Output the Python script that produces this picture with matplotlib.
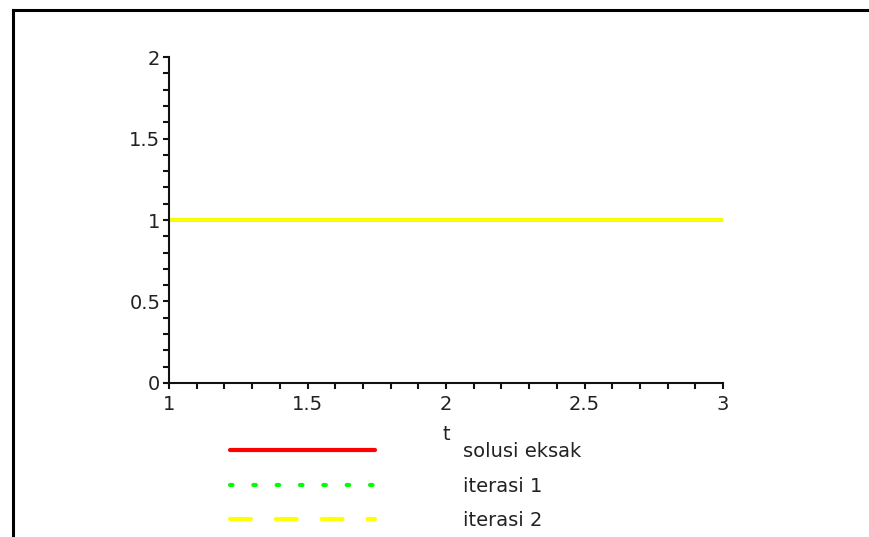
import numpy as np
import matplotlib
matplotlib.use("Agg")
import matplotlib.pyplot as plt
from matplotlib.lines import Line2D
from matplotlib.ticker import MultipleLocator, FuncFormatter

plt.rcParams['font.family'] = ['DejaVu Sans']

# data
t = [1, 3]
solusi_eksak = [1, 1]
iterasi_1 = [1, 1]
iterasi_2 = [1, 1]
labels = ['solusi eksak', 'iterasi 1', 'iterasi 2']
colors = ['#ff0000', '#00ff00', '#ffff00']

fig = plt.figure(figsize=(8.69, 5.37), dpi=100)
ax = fig.add_axes([0.1945, 0.2868, 0.6375, 0.607])

# maple draws the curves solid in the plot area, the last one on top
for y, c in zip([solusi_eksak, iterasi_1, iterasi_2], colors):
    ax.plot(t, y, color=c, lw=2.8, solid_capstyle='butt')

ax.set_xlim(1, 3)
ax.set_ylim(0, 2)
ax.xaxis.set_major_locator(MultipleLocator(0.5))
ax.xaxis.set_minor_locator(MultipleLocator(0.1))
ax.yaxis.set_major_locator(MultipleLocator(0.5))
ax.yaxis.set_minor_locator(MultipleLocator(0.1))
ax.xaxis.set_major_formatter(FuncFormatter(lambda v, p: f'{v:g}'))
ax.yaxis.set_major_formatter(FuncFormatter(lambda v, p: f'{v:g}'))

for s in ['top', 'right']:
    ax.spines[s].set_visible(False)
for s in ['left', 'bottom']:
    ax.spines[s].set_linewidth(1.5)
    ax.spines[s].set_color('#111111')

ax.tick_params(which='both', direction='out', length=4.3, width=1.5, color='#111111',
               labelsize=14, labelcolor='#222222')
ax.tick_params(axis='x', pad=4)
ax.tick_params(axis='y', pad=2)
ax.set_xlabel('t', fontsize=14, color='#222222', labelpad=8)

# legend proxies with the line styles
handles = [
    Line2D([], [], color=colors[0], lw=3, solid_capstyle='round'),
    Line2D([], [], color=colors[1], lw=3, dashes=(0.6, 5.0), dash_capstyle='round'),
    Line2D([], [], color=colors[2], lw=3, dashes=(5.0, 6.0), dash_capstyle='round'),
]
fig.legend(handles, labels, loc='upper left', bbox_to_anchor=(0.2647, 0.177),
           frameon=False, fontsize=14, handlelength=7.46, handletextpad=4.5,
           labelspacing=0.8, labelcolor='#222222', borderaxespad=0, borderpad=0)

# window frame
fig.add_artist(Line2D([0.0155, 1.0], [0.981, 0.981], color='black', lw=2.2,
                      transform=fig.transFigure))
fig.add_artist(Line2D([0.0155, 0.0155], [0.0, 0.981], color='black', lw=2.2,
                      transform=fig.transFigure))

fig.savefig('out.png', dpi=100)
